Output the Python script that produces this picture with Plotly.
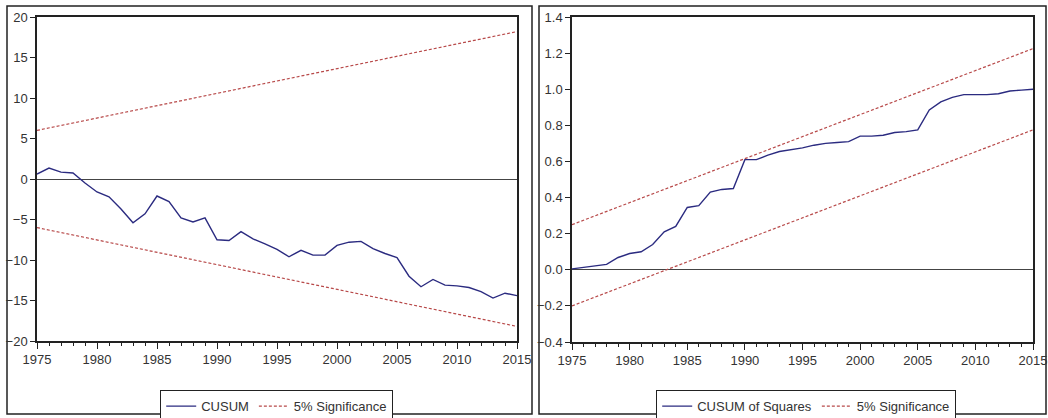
import plotly.graph_objects as go

years = list(range(1975, 2016))

cusum = [0.6, 1.35, 0.85, 0.75, -0.5, -1.6, -2.2, -3.7, -5.4, -4.3,
         -2.1, -2.8, -4.8, -5.3, -4.8, -7.5, -7.6, -6.5, -7.4, -8.0,
         -8.7, -9.6, -8.8, -9.4, -9.4, -8.2, -7.8, -7.7, -8.6, -9.2,
         -9.7, -12.0, -13.3, -12.4, -13.1, -13.2, -13.4, -13.9, -14.7, -14.1,
         -14.4]

cusum_sq = [0.005, 0.013, 0.02, 0.03, 0.068, 0.09, 0.10, 0.14, 0.21, 0.24,
            0.345, 0.355, 0.43, 0.445, 0.45, 0.61, 0.61, 0.635, 0.655, 0.665,
            0.675, 0.69, 0.70, 0.705, 0.71, 0.74, 0.74, 0.745, 0.76, 0.765,
            0.775, 0.885, 0.93, 0.955, 0.97, 0.97, 0.97, 0.975, 0.99, 0.995,
            1.0]

band_years = [1975, 2015]
cusum_upper = [6.0, 18.2]
cusum_lower = [-6.0, -18.2]
sq_upper = [0.25, 1.225]
sq_lower = [-0.2, 0.775]

W, H = 1048, 418
NAVY = "#2b2b80"
RED = "#b84a4a"
DASH = "3px,2px"
FONT = "Liberation Sans, Arial"


def px(x):
    return x / W


def py(y):
    return 1 - y / H


fig = go.Figure()

# Left panel
fig.add_trace(go.Scatter(x=years, y=cusum, mode="lines", name="CUSUM",
                         line=dict(color=NAVY, width=1.4),
                         xaxis="x", yaxis="y", legend="legend"))
fig.add_trace(go.Scatter(x=band_years, y=cusum_upper, mode="lines", name="5% Significance",
                         line=dict(color=RED, width=1.2, dash=DASH),
                         xaxis="x", yaxis="y", legend="legend"))
fig.add_trace(go.Scatter(x=band_years, y=cusum_lower, mode="lines", name="5% Significance",
                         line=dict(color=RED, width=1.2, dash=DASH), showlegend=False,
                         xaxis="x", yaxis="y", legend="legend"))

# Right panel
fig.add_trace(go.Scatter(x=years, y=cusum_sq, mode="lines", name="CUSUM of Squares",
                         line=dict(color=NAVY, width=1.4),
                         xaxis="x2", yaxis="y2", legend="legend2"))
fig.add_trace(go.Scatter(x=band_years, y=sq_upper, mode="lines", name="5% Significance",
                         line=dict(color=RED, width=1.2, dash=DASH),
                         xaxis="x2", yaxis="y2", legend="legend2"))
fig.add_trace(go.Scatter(x=band_years, y=sq_lower, mode="lines", name="5% Significance",
                         line=dict(color=RED, width=1.2, dash=DASH), showlegend=False,
                         xaxis="x2", yaxis="y2", legend="legend2"))

tickfont = dict(family=FONT, size=13, color="#333333")

xcommon = dict(range=[1975, 2015], tick0=1975, dtick=5, ticks="outside", ticklen=6,
               tickcolor="#222", showline=True, linecolor="#222", linewidth=1.5,
               mirror=True, showgrid=False, zeroline=False, tickfont=tickfont,
               automargin=False,
               minor=dict(dtick=1, tick0=1975, ticks="outside", ticklen=3, tickcolor="#222",
                          showgrid=False))

ycommon = dict(ticks="outside", ticklen=5, tickcolor="#222", showline=True,
               linecolor="#222", linewidth=1.5, mirror=True, showgrid=False,
               automargin=False,
               zeroline=True, zerolinecolor="#444", zerolinewidth=1.3, tickfont=tickfont)

legcommon = dict(orientation="h", xanchor="left", yanchor="top",
                 bordercolor="#222", borderwidth=1.2, bgcolor="white",
                 font=dict(family=FONT, size=13, color="#333"),
                 tracegroupgap=0, itemwidth=30)

fig.update_layout(
    template="none",
    width=W, height=H,
    margin=dict(l=0, r=0, t=0, b=0, autoexpand=False),
    paper_bgcolor="white", plot_bgcolor="white",
    font=dict(family=FONT, size=13, color="#222"),
    xaxis=dict(domain=[px(37), px(517)], anchor="y", **xcommon),
    yaxis=dict(domain=[py(341), py(17)], anchor="x", range=[-20, 20], dtick=5,
               **ycommon),
    xaxis2=dict(domain=[px(572), px(1033)], anchor="y2", **xcommon),
    yaxis2=dict(domain=[py(342), py(17)], anchor="x2", range=[-0.4, 1.4], dtick=0.2,
                tickformat=".1f", **ycommon),
    legend=dict(x=px(160), y=py(390), **legcommon),
    legend2=dict(x=px(656), y=py(390), **legcommon),
    shapes=[
        dict(type="rect", xref="paper", yref="paper", x0=px(7), x1=px(532),
             y0=py(414), y1=py(6), line=dict(color="#222", width=1.5), layer="below"),
        dict(type="rect", xref="paper", yref="paper", x0=px(539), x1=px(1046),
             y0=py(414), y1=py(6), line=dict(color="#222", width=1.5), layer="below"),
    ],
)

fig.write_html("out.html",
               config={"displayModeBar": False},
               post_script="document.body.style.margin='0';document.body.style.overflow='hidden';")
